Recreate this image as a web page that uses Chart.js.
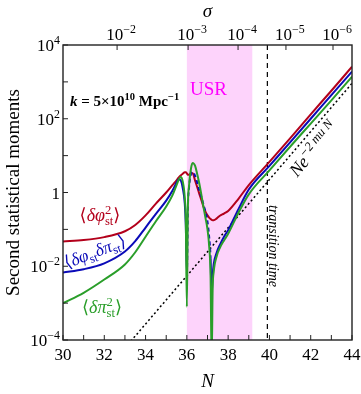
<!DOCTYPE html>
<html>
<head>
<meta charset="utf-8">
<script src="https://cdn.jsdelivr.net/npm/chart.js@4.4.1/dist/chart.umd.min.js"></script>
<style>
  html, body { margin: 0; padding: 0; background: #fff; }
  #wrap { width: 361px; height: 394px; }
</style>
</head>
<body>
<div id="wrap"><canvas id="chartCanvas" width="361" height="394"></canvas></div>
<script>
const N = [30, 31, 32, 33, 33.5, 34, 34.5, 35, 35.3, 35.5, 35.6, 35.7, 35.8, 35.9, 35.95, 36,
           36.05, 36.1, 36.2, 36.28, 36.4, 36.5, 36.6, 36.7, 36.8, 36.9, 37, 37.08, 37.15, 37.2,
           37.25, 37.3, 37.45, 37.6, 37.8, 38, 38.5, 39, 40, 41, 42, 43, 44];

// log10 of each second moment
const phiphiLog = [-1.33, -1.29, -1.21, -1.05, -0.88, -0.62, -0.3, 0.0, 0.2, 0.33, 0.4, 0.46, 0.51, 0.55, 0.55, 0.52,
                   0.48, 0.48, 0.52, 0.52, 0.32, 0.15, -0.03, -0.2, -0.38, -0.52, -0.62, -0.68, -0.72, -0.74,
                   -0.75, -0.75, -0.7, -0.63, -0.57, -0.5, -0.17, 0.2, 0.83, 1.47, 2.12, 2.76, 3.41];
const phipiLog = [-2.17, -2.08, -1.92, -1.6, -1.32, -0.95, -0.58, -0.22, 0.05, 0.27, 0.36, 0.33, 0.12, -0.3, -0.9, -2.2,
                  -0.4, 0.1, 0.5, 0.56, 0.45, 0.27, 0.06, -0.12, -0.32, -0.52, -0.8, -1.2, -1.8, -2.8,
                  -2.25, -1.95, -1.62, -1.42, -1.2, -1.02, -0.45, 0.08, 0.72, 1.36, 2.0, 2.64, 3.28];
const pipiLog = [-3.0, -2.72, -2.36, -1.95, -1.62, -1.2, -0.78, -0.38, -0.08, 0.2, 0.34, 0.42, 0.3, -0.15, -0.8, -3.1,
                 -0.4, 0.15, 0.65, 0.8, 0.72, 0.5, 0.25, -0.05, -0.38, -0.68, -1.0, -1.45, -2.3, -4.6,
                 -2.6, -2.15, -1.72, -1.5, -1.3, -1.12, -0.55, -0.05, 0.6, 1.24, 1.87, 2.5, 3.14];

// <dphi dpi> is negative here, its modulus is drawn dashed
const crossNegFrom = 36, crossNegTo = 37.15;

// dotted reference N e^{-2 mu N}
const refN = [33, 36, 40, 44];
const refLog = [-4.22, -2.26, 0.35, 2.96];

// USR phase and transition time
const usrStart = 36, usrEnd = 39.17;
const transitionN = 39.9;

// top axis: sigma ticks placed at N
const sigmaTickN = [32.62, 36.06, 38.48, 40.8, 43.08];
const sigmaTickExp = [-2, -3, -4, -5, -6];

// bottom / left ticks
const nLabels = [30, 32, 34, 36, 38, 40, 42, 44];
const yLabelExp = [-4, -2, 0, 2, 4];

const FAM = "'Liberation Serif', 'DejaVu Serif', 'DejaVu Sans', serif";
const RED = '#b3001b', BLUE = '#0a0ab8', GREEN = '#2a9e2a';

function pts(xs, logs) {
  return xs.map((x, i) => ({x: x, y: Math.pow(10, logs[i])}));
}

// draw text with super/subscripts, y is the baseline
function drawRich(ctx, parts, x, y, o) {
  const fontFor = (p, size) => (p.it ? 'italic ' : '') + (p.b || o.b ? 'bold ' : '') + size + 'px ' + FAM;
  const small = o.size * 0.7;
  let w = 0;
  const runs = [];
  parts.forEach(p => {
    if (typeof p === 'string') p = {t: p};
    let ww;
    if (p.stack) {
      ctx.font = fontFor(p, small);
      ww = Math.max(ctx.measureText(p.stack[0]).width, ctx.measureText(p.stack[1]).width);
    } else {
      ctx.font = fontFor(p, p.pos ? small : o.size);
      ww = ctx.measureText(p.t).width;
    }
    runs.push({p: p, x: w});
    w += ww;
  });
  ctx.save();
  ctx.translate(x, y);
  if (o.rot) ctx.rotate(o.rot * Math.PI / 180);
  const start = o.align === 'right' ? -w : (o.align === 'center' ? -w / 2 : 0);
  ctx.fillStyle = o.color || '#000';
  ctx.textAlign = 'left';
  ctx.textBaseline = 'alphabetic';
  runs.forEach(r => {
    const p = r.p;
    if (p.stack) {
      ctx.font = fontFor(p, small);
      ctx.fillText(p.stack[0], start + r.x, -o.size * 0.38);
      ctx.fillText(p.stack[1], start + r.x, o.size * 0.22);
    } else {
      ctx.font = fontFor(p, p.pos ? small : o.size);
      const dy = p.pos === 'sup' ? -o.size * 0.4 : (p.pos === 'sub' ? o.size * 0.22 : 0);
      ctx.fillText(p.t, start + r.x, dy);
    }
  });
  ctx.restore();
  return w;
}

function expStr(e) {
  return e < 0 ? '\u2212' + (-e) : String(e);
}

const decor = {
  id: 'decor',
  beforeDatasetsDraw(chart) {
    const {ctx, chartArea: a, scales: {x}} = chart;
    ctx.save();
    const x0 = x.getPixelForValue(usrStart), x1 = x.getPixelForValue(usrEnd);
    ctx.fillStyle = '#fdd3fb';
    ctx.fillRect(x0, a.top, x1 - x0, a.bottom - a.top);
    const xt = x.getPixelForValue(transitionN);
    ctx.strokeStyle = '#000';
    ctx.lineWidth = 1.2;
    ctx.setLineDash([5, 4]);
    ctx.beginPath();
    ctx.moveTo(xt, a.top);
    ctx.lineTo(xt, a.bottom);
    ctx.stroke();
    ctx.restore();
  },
  afterDraw(chart) {
    const {ctx, chartArea: a, scales: {x, y}} = chart;
    ctx.save();
    // frame
    ctx.strokeStyle = '#222';
    ctx.lineWidth = 1.4;
    ctx.strokeRect(a.left, a.top, a.right - a.left, a.bottom - a.top);
    // inward ticks
    ctx.lineWidth = 1;
    ctx.beginPath();
    for (let n = 30; n <= 44; n++) {
      const px = x.getPixelForValue(n);
      ctx.moveTo(px, a.bottom);
      ctx.lineTo(px, a.bottom - 5);
    }
    for (let e = -4; e <= 4; e++) {
      const py = y.getPixelForValue(Math.pow(10, e));
      ctx.moveTo(a.left, py);
      ctx.lineTo(a.left + 5, py);
    }
    sigmaTickN.forEach(n => {
      const px = x.getPixelForValue(n);
      ctx.moveTo(px, a.top);
      ctx.lineTo(px, a.top + 5);
    });
    ctx.stroke();

    // tick labels
    nLabels.forEach(n => {
      drawRich(ctx, [String(n)], x.getPixelForValue(n), a.bottom + 20, {size: 17, align: 'center'});
    });
    yLabelExp.forEach(e => {
      const py = y.getPixelForValue(Math.pow(10, e)) + 6;
      const parts = e === 0 ? ['1'] : ['10', {t: expStr(e), pos: 'sup'}];
      drawRich(ctx, parts, a.left - 3, py, {size: 17, align: 'right'});
    });
    sigmaTickN.forEach((n, i) => {
      drawRich(ctx, ['10', {t: expStr(sigmaTickExp[i]), pos: 'sup'}], x.getPixelForValue(n) + 4, a.top - 5,
               {size: 17, align: 'center'});
    });

    // axis titles
    drawRich(ctx, [{t: 'N', it: true}], (a.left + a.right) / 2, 387, {size: 19, align: 'center'});
    drawRich(ctx, [{t: '\u03c3', it: true}], (a.left + a.right) / 2, 17, {size: 19, align: 'center'});
    drawRich(ctx, ['Second statistical moments'], 19, (a.top + a.bottom) / 2, {size: 19, align: 'center', rot: -90});

    // annotations
    drawRich(ctx, [{t: 'k', it: true}, ' = 5\u00d710', {t: '10', pos: 'sup'}, ' Mpc', {t: '\u22121', pos: 'sup'}],
             70, 106, {size: 15, b: true});
    drawRich(ctx, ['USR'], 190, 95, {size: 19, color: '#ff00ff'});
    drawRich(ctx, ['\u27e8', {t: '\u03b4\u03c6', it: true}, {stack: ['2', 'st']}, '\u27e9'],
             100, 221, {size: 18, color: RED, align: 'center'});
    drawRich(ctx, ['\u27e8', {t: '\u03b4\u03c6', it: true}, {t: 'st', pos: 'sub'}, {t: '\u03b4\u03c0', it: true},
                   {t: 'st', pos: 'sub'}, '\u27e9'],
             97, 257, {size: 17.5, color: BLUE, align: 'center', rot: -21});
    drawRich(ctx, ['\u27e8', {t: '\u03b4\u03c0', it: true}, {stack: ['2', 'st']}, '\u27e9'],
             102, 313, {size: 18, color: GREEN, align: 'center'});
    drawRich(ctx, [{t: 'Ne', it: true}, {t: '\u22122 mu N', it: true, pos: 'sup'}],
             318, 153, {size: 18, align: 'center', rot: -50});
    drawRich(ctx, [{t: 'transition time', it: true}], 269, 205, {size: 14, rot: 90});
    ctx.restore();
  }
};

new Chart(document.getElementById('chartCanvas'), {
  type: 'line',
  data: {
    datasets: [
      {
        data: pts(N, pipiLog), borderColor: GREEN, borderWidth: 2, order: 0
      },
      {
        data: pts(N, phipiLog), borderColor: BLUE, borderWidth: 2, order: 1,
        segment: {
          borderDash: c => (c.p0.parsed.x >= crossNegFrom && c.p1.parsed.x <= crossNegTo) ? [4, 3] : undefined
        }
      },
      {
        data: pts(N, phiphiLog), borderColor: RED, borderWidth: 2, order: 2
      },
      {
        data: pts(refN, refLog), borderColor: '#000', borderWidth: 1.5, borderDash: [2, 2.5], order: 3
      }
    ]
  },
  options: {
    responsive: false,
    animation: false,
    layout: {padding: {right: 9, left: 0, top: 0, bottom: 0}},
    elements: {
      point: {radius: 0},
      line: {cubicInterpolationMode: 'monotone', fill: false}
    },
    plugins: {legend: {display: false}, tooltip: {enabled: false}},
    scales: {
      x: {
        type: 'linear', position: 'bottom', min: 30, max: 44,
        ticks: {display: false}, grid: {display: false}, border: {display: false},
        afterFit: s => { s.height = 54; }
      },
      x2: {
        type: 'linear', position: 'top', min: 30, max: 44, display: true,
        ticks: {display: false}, grid: {display: false}, border: {display: false},
        afterFit: s => { s.height = 45; }
      },
      y: {
        type: 'logarithmic', position: 'left', min: 1e-4, max: 1e4,
        ticks: {display: false}, grid: {display: false}, border: {display: false},
        afterFit: s => { s.width = 63; }
      }
    }
  },
  plugins: [decor]
});
</script>
</body>
</html>
